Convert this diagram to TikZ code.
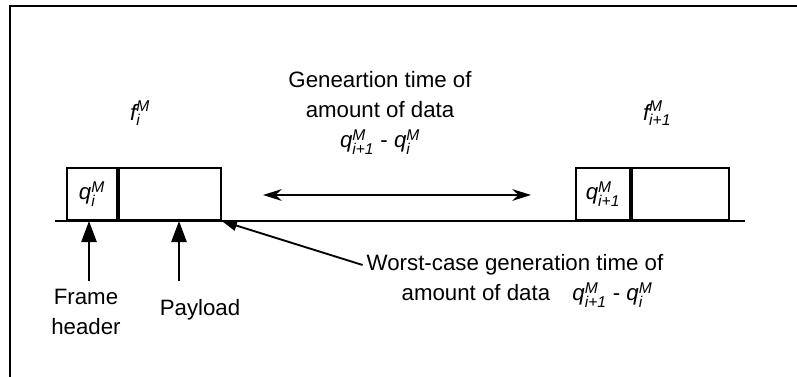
\documentclass[tikz,border=0pt]{standalone}
\usepackage{amsmath}
\usepackage{fontspec}
\setmainfont{Liberation Sans}
\usetikzlibrary{arrows.meta}
\newcommand{\qsym}[3]{$\textit{#1}_{\textit{#2}}^{\textit{#3}}$}

\begin{document}
\begin{tikzpicture}[x=0.03cm, y=-0.03cm,
    every node/.style={font=\fontsize{19}{25.6}\selectfont},
    field/.style={draw=black, line width=1.6pt, inner sep=0pt, minimum height=1.56cm, anchor=south west},
    pointer/.style={-{Triangle[length=18pt,width=13pt]}, line width=1.8pt}]
    \useasboundingbox (0,0) rectangle (797,377);
    \draw[line width=2pt] (797,6) -- (10,6) -- (10,377);

    \draw[line width=1.8pt] (55,221) -- (745,221);
    \node[field, minimum width=1.5cm] (h1) at (66,221) {\qsym{q}{i}{M}};
    \node[field, minimum width=3.06cm] (p1) at (h1.south east) {};
    \node[field, minimum width=1.62cm] (h2) at (575,221) {\qsym{q}{i+1}{M}};
    \node[field, minimum width=2.91cm] (p2) at (h2.south east) {};

    \node (f1) at (140,113) {\qsym{f}{i}{M}};
    \node (f2) at (657,113) {\qsym{f}{i+1}{M}};
    \node[align=center] (gen) at (380,113) {Geneartion time of\\amount of data\\\qsym{q}{i+1}{M} - \qsym{q}{i}{M}};

    \coordinate (gl) at (263,195);
    \coordinate (gr) at (531,195);
    \draw[{Stealth[length=16pt,width=10pt]}-{Stealth[length=16pt,width=10pt]}, line width=1.6pt] (gl) -- (gr);

    \node[align=center] (fh) at (86,312) {Frame\\header};
    \node (pl) at (200,310) {Payload};
    \node (wc1) at (515,265) {Worst-case generation time of};
    \node (wc2) at (527,295) {amount of data\quad \qsym{q}{i+1}{M} - \qsym{q}{i}{M}};

    \coordinate (fht) at (89,281);
    \coordinate (plt) at (179,281);
    \draw[pointer] (fht) -- (fht |- h1.south);
    \draw[pointer] (plt) -- (plt |- p1.south);
    \draw[-{Triangle[length=13pt,width=9pt]}, line width=1.6pt] (wc1.west) -- (p1.south east);
  \end{tikzpicture}
\end{document}
